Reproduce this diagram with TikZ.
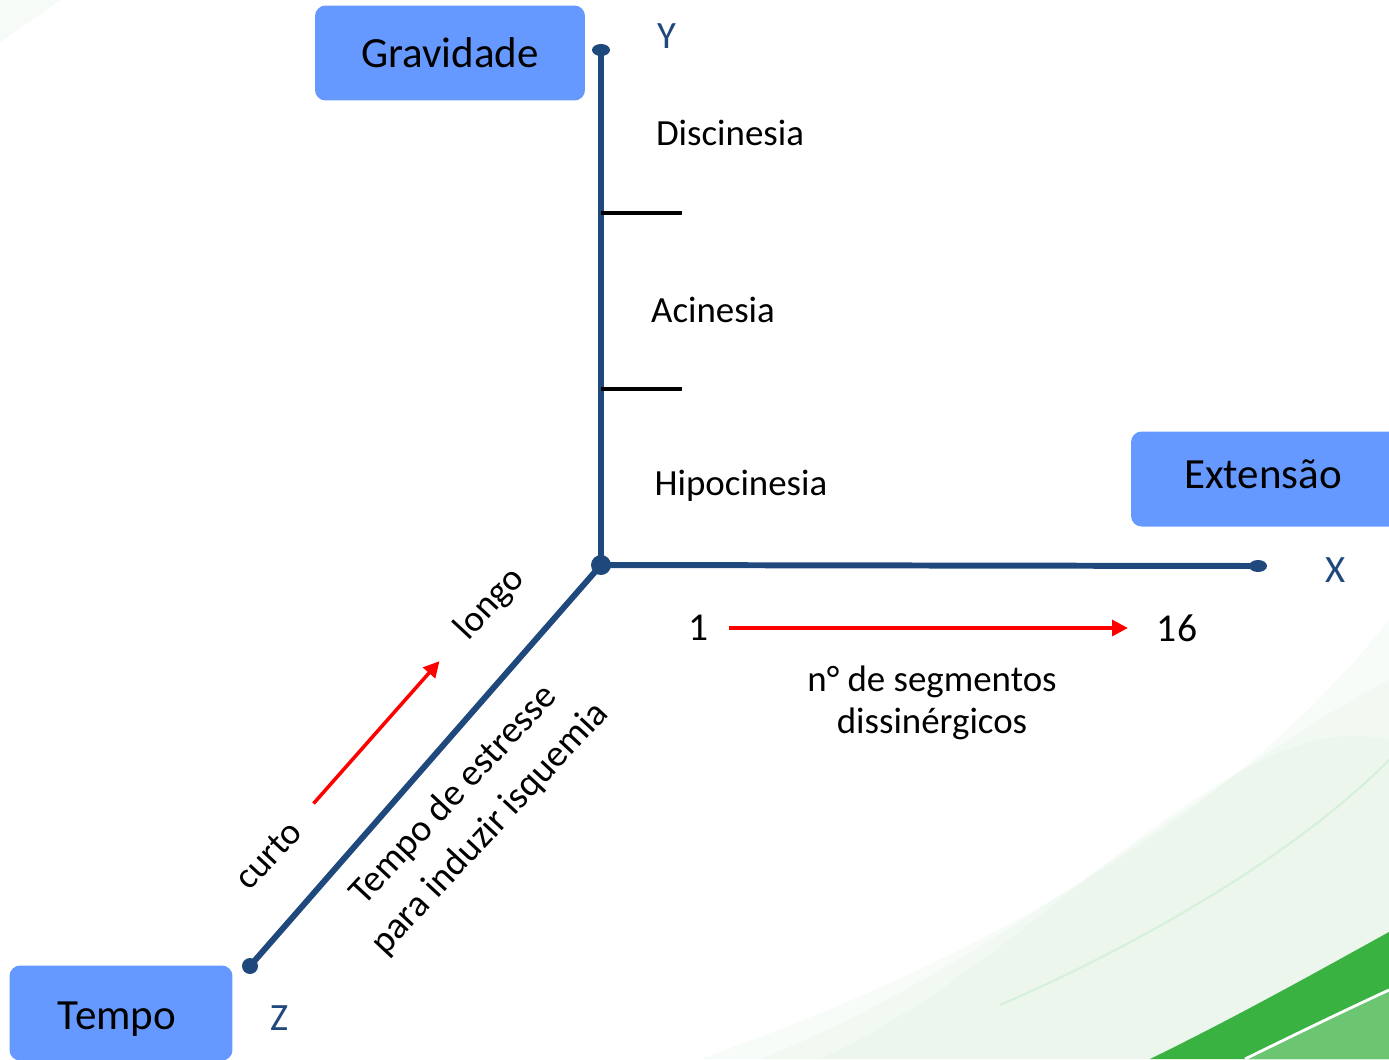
\documentclass[tikz,border=0pt]{standalone}
\usepackage{fontspec}
\setmainfont{Carlito}
\usetikzlibrary{arrows.meta}

\definecolor{axisblue}{RGB}{31,73,125}
\definecolor{boxblue}{RGB}{102,153,255}
\definecolor{leafgreen}{RGB}{58,178,66}

\begin{document}
\begin{tikzpicture}[x=0.02cm,y=-0.02cm,
        axis/.style={axisblue,line width=3.4pt},
        titlebox/.style={fill=boxblue,rounded corners=6pt,minimum height=1.9cm,
            font=\fontsize{24.5}{29}\selectfont},
        lbl/.style={font=\fontsize{21}{25}\selectfont},
        axisname/.style={text=axisblue,font=\fontsize{22}{26}\selectfont},
        redarrow/.style={red,line width=2pt,-{Triangle[length=9pt,width=9pt]}}]

        % Background
        \clip (0,0) rectangle (1389,1059);
        \fill[white] (0,0) rectangle (1389,1059);
        \fill[leafgreen,opacity=0.04] (0,0) -- (60,0) .. controls (35,18) and (18,30) .. (0,42) -- cycle;
        \foreach \s in {0,60,120}
            \fill[leafgreen,opacity=0.03] (700+\s,1059) .. controls (980+\s/2,960) and (1230,820-\s) .. (1389,620+\s)
                -- (1389,935) .. controls (1300,985) and (1210,1030) .. (1150,1059) -- cycle;
        \draw[leafgreen!20,line width=1.2pt] (1000,1005) .. controls (1150,940) and (1300,850) .. (1389,760);
        \fill[leafgreen] (1150,1059) .. controls (1240,1015) and (1320,970) .. (1389,932) -- (1389,1059) -- cycle;
        \fill[leafgreen!75] (1245,1059) .. controls (1300,1032) and (1350,1008) .. (1389,990) -- (1389,1059) -- cycle;
        \draw[white,line width=1.6pt] (1245,1059) .. controls (1300,1032) and (1350,1008) .. (1389,990);

        % Axes
        \coordinate (O) at (601,565);
        \coordinate (Ytop) at (601,50);
        \coordinate (Xend) at (1258,566);
        \coordinate (Zend) at (250,966);
        \draw[axis] (O) -- (Ytop);
        \draw[axis] (O) -- (Xend);
        \draw[axis] (O) -- (Zend);
        \fill[axisblue] (O) circle (10);
        \fill[axisblue] (Ytop) ellipse (9 and 6);
        \fill[axisblue] (Xend) ellipse (9 and 6);
        \fill[axisblue] (Zend) circle (8);
        \node[axisname] (ylab) at (667,36) {Y};
        \node[axisname] (xlab) at (1336,570) {X};
        \node[axisname] (zlab) at (280,1018) {Z};

        % Ticks on Y
        \foreach \y in {213,389}
            \draw[black,line width=2.3pt] (601,\y) -- (682,\y);

        % Boxes
        \node[titlebox,minimum width=5.4cm] (gravidade) at (450,53) {Gravidade};
        \node[titlebox,minimum width=5.4cm] (extensao) at (1266,479) {};
        \node[font=\fontsize{24.5}{29}\selectfont] (extlab) at (1263,474) {Extensão};
        \node[titlebox,minimum width=4.46cm] (tempo) at (121,1013) {};
        \node[font=\fontsize{24.5}{29}\selectfont] (tempolab) at (117,1019) {Tempo};

        % Severity levels
        \node[lbl] (disc) at (730,133) {Discinesia};
        \node[lbl] (acin) at (713,310) {Acinesia};
        \node[lbl] (hipo) at (741,486) {Hipocinesia};

        % Extent
        \node[lbl,font=\fontsize{22.5}{26}\selectfont] (one) at (699,628) {1};
        \node[lbl,font=\fontsize{22.5}{26}\selectfont] (sixteen) at (1177,628) {16};
        \draw[redarrow,shorten <=8pt,shorten >=13pt] (one) -- (sixteen);
        \node[lbl,align=center,font=\fontsize{21}{24}\selectfont] (segs) at (932,703) {n° de segmentos\\dissinérgicos};

        % Time
        \node[lbl,rotate=47] (curto) at (268,855) {curto};
        \node[lbl,rotate=47] (longo) at (490,604) {longo};
        \draw[redarrow,shorten <=13pt,shorten >=16pt] (curto) -- (longo);
        \node[lbl,rotate=47,align=center,font=\fontsize{21.5}{28}\selectfont] (stress) at (472,812)
            {Tempo de estresse\\para induzir isquemia};
    \end{tikzpicture}
\end{document}
